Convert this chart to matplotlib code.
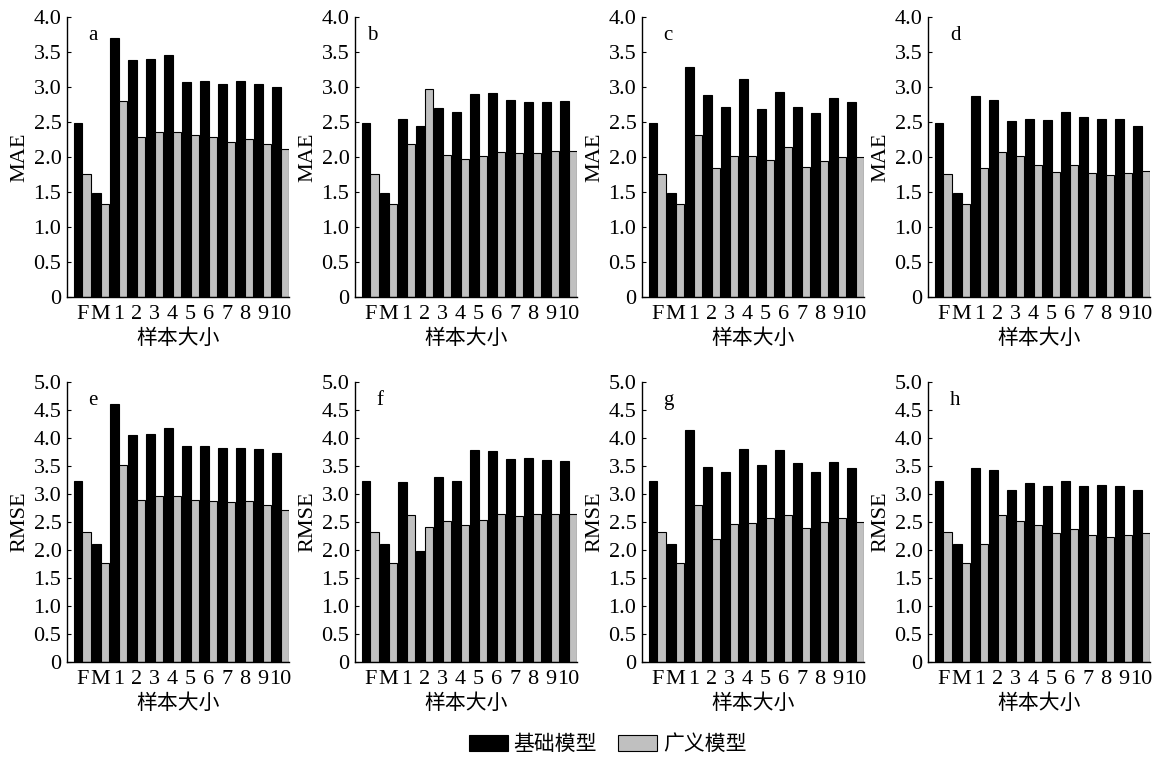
import matplotlib
matplotlib.use("Agg")
import matplotlib.pyplot as plt
import numpy as np

plt.rcParams['font.family'] = ['Liberation Serif', 'Noto Sans CJK SC', 'DejaVu Sans']

categories = ["F", "M", "1", "2", "3", "4", "5", "6", "7", "8", "9", "10"]
series_names = ["基础模型", "广义模型"]
panel_letters = ["a", "b", "c", "d", "e", "f", "g", "h"]

# MAE panels (a-d)
a_base = [2.48, 1.48, 3.70, 3.38, 3.40, 3.46, 3.07, 3.09, 3.04, 3.08, 3.04, 3.00]
a_gen  = [1.76, 1.33, 2.80, 2.29, 2.36, 2.36, 2.31, 2.29, 2.22, 2.26, 2.19, 2.12]
b_base = [2.48, 1.48, 2.54, 2.44, 2.70, 2.64, 2.90, 2.92, 2.82, 2.78, 2.79, 2.80]
b_gen  = [1.76, 1.33, 2.19, 2.97, 2.03, 1.97, 2.02, 2.07, 2.06, 2.06, 2.08, 2.09]
c_base = [2.48, 1.48, 3.29, 2.89, 2.72, 3.12, 2.68, 2.93, 2.72, 2.63, 2.84, 2.79]
c_gen  = [1.76, 1.33, 2.32, 1.84, 2.02, 2.01, 1.96, 2.14, 1.86, 1.95, 2.00, 2.00]
d_base = [2.48, 1.48, 2.87, 2.81, 2.51, 2.55, 2.53, 2.64, 2.57, 2.55, 2.54, 2.45]
d_gen  = [1.76, 1.33, 1.84, 2.07, 2.01, 1.89, 1.79, 1.88, 1.77, 1.75, 1.77, 1.80]
# RMSE panels (e-h)
e_base = [3.23, 2.10, 4.60, 4.06, 4.08, 4.18, 3.85, 3.86, 3.82, 3.83, 3.80, 3.74]
e_gen  = [2.32, 1.77, 3.51, 2.90, 2.97, 2.96, 2.90, 2.88, 2.86, 2.88, 2.80, 2.71]
f_base = [3.23, 2.10, 3.21, 1.98, 3.30, 3.24, 3.79, 3.76, 3.63, 3.64, 3.61, 3.59]
f_gen  = [2.32, 1.77, 2.63, 2.41, 2.51, 2.45, 2.53, 2.64, 2.61, 2.64, 2.64, 2.64]
g_base = [3.23, 2.10, 4.15, 3.49, 3.39, 3.81, 3.51, 3.78, 3.56, 3.39, 3.58, 3.46]
g_gen  = [2.32, 1.77, 2.80, 2.20, 2.46, 2.48, 2.58, 2.63, 2.39, 2.50, 2.58, 2.50]
h_base = [3.23, 2.10, 3.47, 3.42, 3.07, 3.20, 3.15, 3.24, 3.14, 3.16, 3.14, 3.08]
h_gen  = [2.32, 1.77, 2.10, 2.63, 2.52, 2.44, 2.31, 2.38, 2.26, 2.23, 2.26, 2.30]

base_all = [a_base, b_base, c_base, d_base, e_base, f_base, g_base, h_base]
gen_all = [a_gen, b_gen, c_gen, d_gen, e_gen, f_gen, g_gen, h_gen]

mae_ticks = [0, 0.5, 1.0, 1.5, 2.0, 2.5, 3.0, 3.5, 4.0]
mae_ticklabels = ["0", "0.5", "1.0", "1.5", "2.0", "2.5", "3.0", "3.5", "4.0"]
rmse_ticks = [0, 0.5, 1.0, 1.5, 2.0, 2.5, 3.0, 3.5, 4.0, 4.5, 5.0]
rmse_ticklabels = ["0", "0.5", "1.0", "1.5", "2.0", "2.5", "3.0", "3.5", "4.0", "4.5", "5.0"]

W, H = 1160, 763
fig = plt.figure(figsize=(W / 100, H / 100), dpi=100)

col_left = [67, 355, 642, 928]
row_bottom = [297, 662]
aw, ah = 222, 280
letter_x = [0.094, 0.054, 0.095, 0.10, 0.094, 0.095, 0.095, 0.10]

x = np.arange(len(categories))
bw = 0.46
handles = None
for i in range(8):
    r, c = divmod(i, 4)
    ax = fig.add_axes([col_left[c] / W, (H - row_bottom[r]) / H, aw / W, ah / H])
    hb = ax.bar(x - bw / 2, base_all[i], width=bw, color="black", edgecolor="black", linewidth=0.8)
    hg = ax.bar(x + bw / 2, gen_all[i], width=bw, color="#c0c0c0", edgecolor="black", linewidth=0.8)
    handles = (hb, hg)
    ax.set_xlim(-0.86, 11.46)
    if r == 0:
        ax.set_ylim(0, 4.0)
        ax.set_yticks(mae_ticks)
        ax.set_yticklabels(mae_ticklabels)
        ax.set_ylabel("MAE", fontsize=16, labelpad=3)
    else:
        ax.set_ylim(0, 5.0)
        ax.set_yticks(rmse_ticks)
        ax.set_yticklabels(rmse_ticklabels)
        ax.set_ylabel("RMSE", fontsize=16, labelpad=3)
    ax.set_xticks(x)
    ax.set_xticklabels(categories)
    ax.tick_params(axis="x", length=0, pad=6, labelsize=16)
    ax.tick_params(axis="y", direction="in", length=3, width=0.8, pad=4, labelsize=16)
    for s in ("top", "right"):
        ax.spines[s].set_visible(False)
    for s in ("left", "bottom"):
        ax.spines[s].set_linewidth(1.0)
    ax.set_xlabel("样本大小", fontsize=15, labelpad=4)
    ax.text(letter_x[i], 0.935, panel_letters[i], transform=ax.transAxes,
            fontsize=15, ha="left", va="center")

fig.legend(handles, series_names, loc="center", bbox_to_anchor=(607.5 / W, 1 - 745 / H),
           ncol=2, frameon=False, fontsize=15, handlelength=1.9, handleheight=0.8,
           handletextpad=0.25, columnspacing=1.0, borderpad=0)

fig.savefig("out.png", dpi=100)
